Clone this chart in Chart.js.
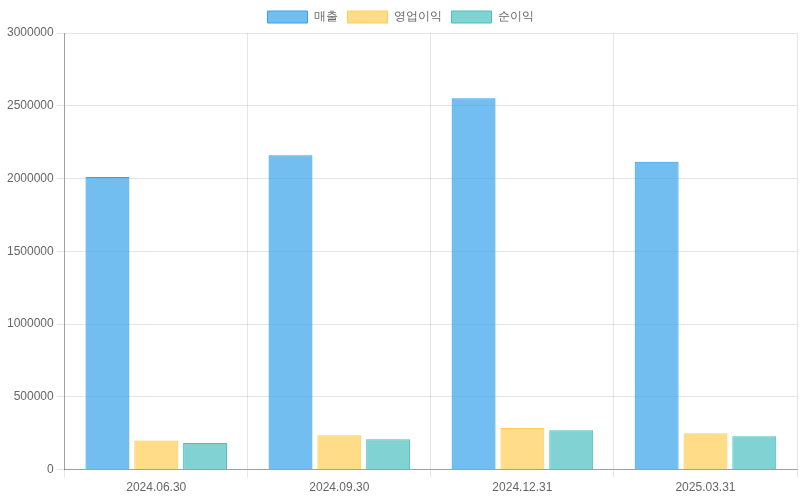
<!DOCTYPE html>
<html>
<head>
<meta charset="utf-8">
<script src="https://cdn.jsdelivr.net/npm/chart.js@4/dist/chart.umd.min.js"></script>
<style>
  html, body { margin: 0; padding: 0; background: #fff; }
  #wrap { width: 800px; height: 500px; }
</style>
</head>
<body>
<div id="wrap"><canvas id="chart"></canvas></div>
<script>
// 분기별 실적
const periods = ['2024.06.30', '2024.09.30', '2024.12.31', '2025.03.31'];
const revenue = [2010000, 2160000, 2552000, 2116000];
const operatingIncome = [200000, 236000, 286000, 249000];
const netIncome = [182000, 208000, 270000, 230000];

const COLORS = {
  revenue: 'rgb(54, 162, 235)',
  operating: 'rgb(255, 205, 86)',
  net: 'rgb(75, 192, 192)',
};

function withAlpha(rgb, a) {
  return rgb.replace('rgb(', 'rgba(').replace(')', ', ' + a + ')');
}

const AXIS_LINE = 'rgba(0, 0, 0, 0.3)';

const ctx = document.getElementById('chart').getContext('2d');
new Chart(ctx, {
  type: 'bar',
  data: {
    labels: periods,
    datasets: [
      {
        label: '매출',
        data: revenue,
        backgroundColor: withAlpha(COLORS.revenue, 0.7),
        borderColor: COLORS.revenue,
        borderWidth: 1,
      },
      {
        label: '영업이익',
        data: operatingIncome,
        backgroundColor: withAlpha(COLORS.operating, 0.7),
        borderColor: COLORS.operating,
        borderWidth: 1,
      },
      {
        label: '순이익',
        data: netIncome,
        backgroundColor: withAlpha(COLORS.net, 0.7),
        borderColor: COLORS.net,
        borderWidth: 1,
      },
    ],
  },
  options: {
    responsive: true,
    maintainAspectRatio: false,
    animation: false,
    layout: { padding: { top: 1, bottom: 2, left: 4, right: 3 } },
    plugins: {
      legend: { labels: { color: '#666', font: { size: 12 } } },
    },
    scales: {
      x: {
        ticks: { color: '#666' },
        border: { color: AXIS_LINE },
      },
      y: {
        min: 0,
        max: 3000000,
        ticks: { stepSize: 500000, color: '#666', callback: (v) => String(v) },
        border: { color: AXIS_LINE },
      },
    },
  },
});
</script>
</body>
</html>
